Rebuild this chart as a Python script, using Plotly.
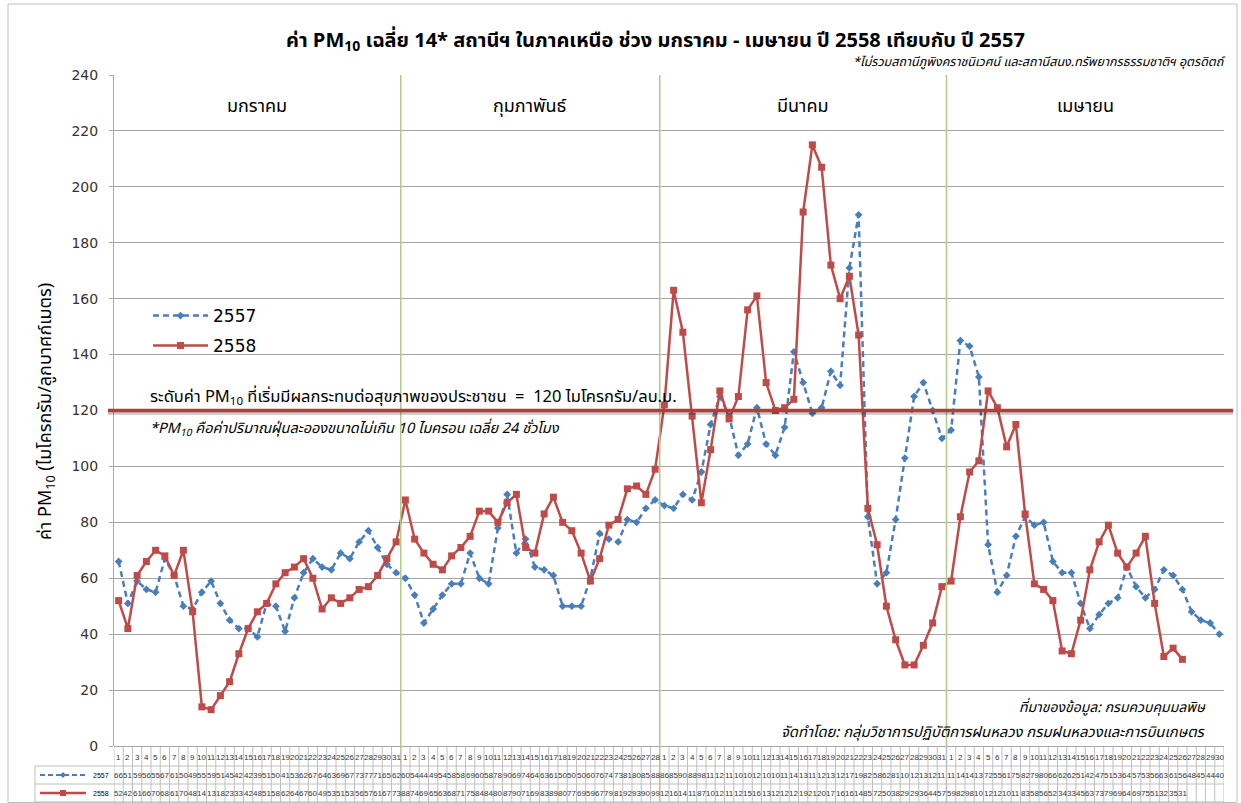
import plotly.graph_objects as go

# ---------------- data ----------------
months = ["มกราคม", "กุมภาพันธ์", "มีนาคม", "เมษายน"]
days_in_month = [31, 28, 31, 30]

pm2557_jan = [66, 51, 59, 56, 55, 67, 61, 50, 49, 55, 59, 51, 45, 42, 42, 39, 51, 50, 41, 53,
              62, 67, 64, 63, 69, 67, 73, 77, 71, 65, 62]
pm2557_feb = [60, 54, 44, 49, 54, 58, 58, 69, 60, 58, 78, 90, 69, 74, 64, 63, 61, 50, 50, 50,
              60, 76, 74, 73, 81, 80, 85, 88]
pm2557_mar = [86, 85, 90, 88, 98, 115, 125, 118, 104, 108, 121, 108, 104, 114, 141, 130, 119, 121, 134, 129,
              171, 190, 82, 58, 62, 81, 103, 125, 130, 120, 110]
pm2557_apr = [113, 145, 143, 132, 72, 55, 61, 75, 82, 79, 80, 66, 62, 62, 51, 42, 47, 51, 53, 64,
              57, 53, 56, 63, 61, 56, 48, 45, 44, 40]

pm2558_jan = [52, 42, 61, 66, 70, 68, 61, 70, 48, 14, 13, 18, 23, 33, 42, 48, 51, 58, 62, 64,
              67, 60, 49, 53, 51, 53, 56, 57, 61, 67, 73]
pm2558_feb = [88, 74, 69, 65, 63, 68, 71, 75, 84, 84, 80, 87, 90, 71, 69, 83, 89, 80, 77, 69,
              59, 67, 79, 81, 92, 93, 90, 99]
pm2558_mar = [122, 163, 148, 118, 87, 106, 127, 117, 125, 156, 161, 130, 120, 121, 124, 191, 215, 207, 172, 160,
              168, 147, 85, 72, 50, 38, 29, 29, 36, 44, 57]
pm2558_apr = [59, 82, 98, 102, 127, 121, 107, 115, 83, 58, 56, 52, 34, 33, 45, 63, 73, 79, 69, 64,
              69, 75, 51, 32, 35, 31, None, None, None, None]

threshold = 120
y_ticks = [0, 20, 40, 60, 80, 100, 120, 140, 160, 180, 200, 220, 240]

pm2557 = pm2557_jan + pm2557_feb + pm2557_mar + pm2557_apr
pm2558 = pm2558_jan + pm2558_feb + pm2558_mar + pm2558_apr
day_labels = [str(d) for n in days_in_month for d in range(1, n + 1)]
x = list(range(1, len(day_labels) + 1))

# ---------------- layout helpers ----------------
W, H = 1241, 803
L, R, T, B = 114, 1224, 75, 746


def px(v):
    return (v - L) / (R - L)


def py(v):
    return (B - v) / (B - T)


THAI = "Tahoma, 'Leelawadee UI', 'Noto Sans Thai', 'Noto Sans', sans-serif"
BLUE = "#4A7EBB"
RED = "#BE4B48"
GRID = "#A6A6A6"
TABLE = "#BFBFBF"
OLIVE = "#B3C98A"

fig = go.Figure()
fig.add_trace(go.Scatter(
    x=x, y=pm2557, name="2557", mode="lines+markers", showlegend=True,
    line=dict(color=BLUE, width=2.5, dash="6px,4px"),
    marker=dict(symbol="diamond", size=6, color=BLUE),
    legend="legend"))
fig.add_trace(go.Scatter(
    x=x, y=pm2558, name="2558", mode="lines+markers", showlegend=True,
    line=dict(color=RED, width=2.5),
    marker=dict(symbol="square", size=7, color=RED),
    legend="legend2"))

shapes = []
# month dividers (through plot and table)
cum = 0
for n in days_in_month[:-1]:
    cum += n
    shapes.append(dict(type="line", xref="x", yref="paper", x0=cum + 0.5, x1=cum + 0.5,
                       y0=py(803), y1=1, line=dict(color=OLIVE, width=1.5), layer="above"))

# threshold line with shadow
shapes.append(dict(type="line", xref="paper", yref="y", x0=px(108), x1=px(1233),
                   y0=threshold - 0.8, y1=threshold - 0.8,
                   line=dict(color="rgba(0,0,0,0.22)", width=4), layer="above"))
shapes.append(dict(type="line", xref="paper", yref="y", x0=px(108), x1=px(1233),
                   y0=threshold, y1=threshold,
                   line=dict(color="#B93A3A", width=3.5), layer="above"))

# data table grid
for k in range(len(x) + 1):
    shapes.append(dict(type="line", xref="x", yref="paper", x0=k + 0.5, x1=k + 0.5,
                       y0=py(802), y1=py(747), line=dict(color=TABLE, width=1)))
shapes.append(dict(type="line", xref="paper", yref="paper", x0=px(35), x1=px(35),
                   y0=py(802), y1=py(766), line=dict(color=TABLE, width=1)))
for yy, x0p in [(766, 35), (784, 35), (802, 35)]:
    shapes.append(dict(type="line", xref="paper", yref="paper", x0=px(x0p), x1=1,
                       y0=py(yy), y1=py(yy), line=dict(color=TABLE, width=1)))

# legend keys in the table
shapes.append(dict(type="line", xref="paper", yref="paper", x0=px(40), x1=px(86),
                   y0=py(775), y1=py(775), line=dict(color=BLUE, width=2, dash="5px,3px")))
shapes.append(dict(type="path", xref="paper", yref="paper",
                   path=f"M {px(60)} {py(775)} L {px(63)} {py(772)} L {px(66)} {py(775)} L {px(63)} {py(778)} Z",
                   fillcolor=BLUE, line=dict(color=BLUE, width=0)))
shapes.append(dict(type="line", xref="paper", yref="paper", x0=px(40), x1=px(86),
                   y0=py(793), y1=py(793), line=dict(color=RED, width=2.5)))
shapes.append(dict(type="rect", xref="paper", yref="paper", x0=px(60), x1=px(66),
                   y0=py(796), y1=py(790), fillcolor=RED, line=dict(color=RED, width=0)))

# outer chart border
shapes.append(dict(type="rect", xref="paper", yref="paper", x0=px(8), x1=px(1237),
                   y0=py(802.5), y1=py(4), line=dict(color="#BFBFBF", width=1)))

ann = []


def text(xp, yp, s, size, anchor="left", family=THAI, color="#000000", **kw):
    ann.append(dict(xref="paper", yref="paper", x=px(xp), y=py(yp), text=s,
                    showarrow=False, xanchor=anchor, yanchor="middle",
                    font=dict(size=size, family=family, color=color), **kw))


text(655, 42, "<b>ค่า PM<sub>10</sub> เฉลี่ย 14* สถานีฯ ในภาคเหนือ ช่วง มกราคม - เมษายน ปี 2558 เทียบกับ ปี 2557</b>",
     20, anchor="center")
text(1228, 62, "<i>*ไม่รวมสถานีภูพิงคราชนิเวศน์ และสถานีสนง.ทรัพยากรธรรมชาติฯ อุตรดิตถ์</i>", 12.5, anchor="right")
text(148, 397, "ระดับค่า PM<sub>10</sub> ที่เริ่มมีผลกระทบต่อสุขภาพของประชาชน  =  120 ไมโครกรัม/ลบ.ม.", 16.5)
text(148, 430, "<i>*PM<sub>10</sub> คือค่าปริมาณฝุ่นละอองขนาดไม่เกิน 10 ไมครอน เฉลี่ย 24 ชั่วโมง</i>", 14.5)
text(1208, 707, "<i>ที่มาของข้อมูล: กรมควบคุมมลพิษ</i>", 14, anchor="right")
text(1208, 732, "<i>จัดทำโดย: กลุ่มวิชาการปฏิบัติการฝนหลวง กรมฝนหลวงและการบินเกษตร</i>", 14.8, anchor="right")
text(46, 412, "ค่า PM<sub>10</sub> (ไมโครกรัม/ลูกบาศก์เมตร)", 18, anchor="center", textangle=-90)
text(91, 775, "2557", 7, family="'Liberation Sans Narrow', 'Liberation Sans', sans-serif")
text(91, 793, "2558", 7, family="'Liberation Sans Narrow', 'Liberation Sans', sans-serif")

# month headers
start = 0
for name, n in zip(months, days_in_month):
    ann.append(dict(xref="x", yref="paper", x=start + (n + 1) / 2, y=py(106), text=name,
                    showarrow=False, xanchor="center", yanchor="middle",
                    font=dict(size=18, family=THAI, color="#000000")))
    start += n


# data table text (cells clip 3-digit values to the first two digits, as in the source)
def cell(v):
    return "" if v is None else str(v)[:2]


NUMF = "'Liberation Sans Narrow', 'Liberation Sans', sans-serif"
for i, d in enumerate(day_labels):
    for yy, s in [(757, d), (775, cell(pm2557[i])), (793, cell(pm2558[i]))]:
        if s:
            ann.append(dict(xref="x", yref="paper", x=x[i], y=py(yy), text=s, showarrow=False,
                            xanchor="center", yanchor="middle",
                            font=dict(size=8, family=NUMF, color="#333333")))

legend_common = dict(xanchor="left", yanchor="middle", itemwidth=55,
                     font=dict(size=17, family="'DejaVu Sans', sans-serif", color="#000"),
                     bgcolor="rgba(0,0,0,0)")
fig.update_layout(
    width=W, height=H, showlegend=True,
    margin=dict(l=L, r=W - R, t=T, b=H - B, pad=0),
    paper_bgcolor="white", plot_bgcolor="white",
    shapes=shapes, annotations=ann,
    legend=dict(x=px(148), y=py(316), **legend_common),
    legend2=dict(x=px(148), y=py(346), **legend_common),
    xaxis=dict(range=[0.5, len(x) + 0.5], showticklabels=False, showgrid=False,
               zeroline=False, showline=False, fixedrange=True),
    yaxis=dict(range=[0, 240], tickvals=y_ticks, showgrid=True, gridcolor=GRID, gridwidth=1,
               zeroline=True, zerolinecolor=GRID, zerolinewidth=1,
               showline=True, linecolor=GRID, linewidth=1,
               ticks="outside", ticklen=4, tickcolor=GRID, ticklabelstandoff=8,
               tickfont=dict(size=14, family="'DejaVu Sans', Verdana, sans-serif", color="#333333")),
)

fig.write_html("out.html", config={"displayModeBar": False},
               post_script="document.body.style.margin='0px';document.body.style.overflow='hidden';")
